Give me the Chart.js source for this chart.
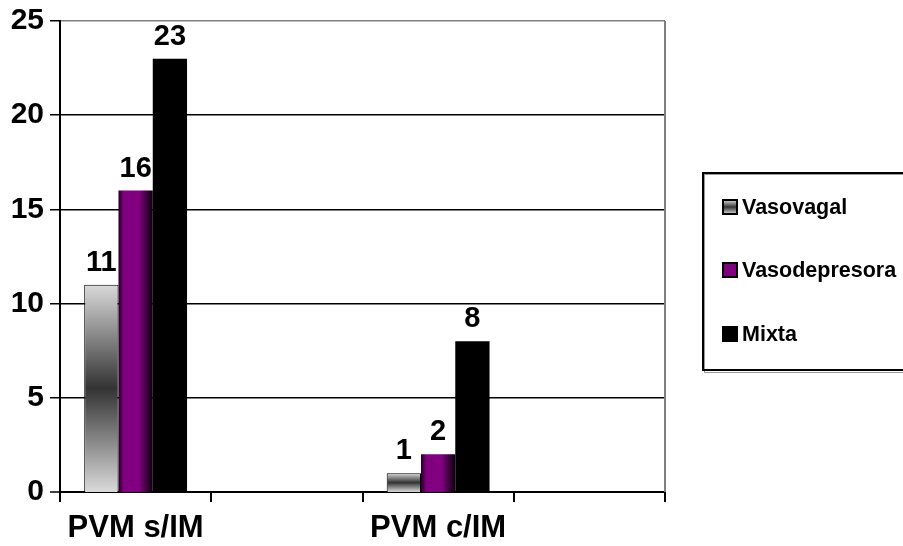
<!DOCTYPE html>
<html>
<head>
<meta charset="utf-8">
<script src="https://cdn.jsdelivr.net/npm/chart.js@4/dist/chart.umd.min.js"></script>
<style>
html,body{margin:0;padding:0;background:#fff;}
#wrap{width:903px;height:546px;position:relative;}
</style>
</head>
<body>
<div id="wrap"><canvas id="c" width="903" height="546"></canvas></div>
<script>
const categories = ["PVM s/IM", "", "PVM c/IM", ""];
const seriesNames = ["Vasovagal", "Vasodepresora", "Mixta"];
const vasovagal = [11, null, 1, null];
const vasodepresora = [16, null, 2, null];
const mixta = [23, null, 8, null];
const yTicks = [0, 5, 10, 15, 20, 25];

const FONT = "'Liberation Sans', Arial, sans-serif";
const CAT_PCT = 0.68;

function barLeft(chart, dataIndex, datasetIndex) {
  const xs = chart.scales.x;
  const slot = xs.width / categories.length;
  const bw = slot * CAT_PCT / 3;
  const center = xs.getPixelForValue(dataIndex);
  return {left: center - 1.5 * bw + datasetIndex * bw, w: bw};
}

function grayFill(context) {
  const chart = context.chart;
  if (!chart.chartArea || context.raw == null) return '#b0b0b0';
  const ys = chart.scales.y;
  const top = ys.getPixelForValue(context.raw);
  const bot = ys.getPixelForValue(0);
  const g = chart.ctx.createLinearGradient(0, top, 0, bot);
  g.addColorStop(0, '#dadada');
  g.addColorStop(0.5, '#333333');
  g.addColorStop(1, '#dadada');
  return g;
}
function purpleFill(context) {
  const chart = context.chart;
  if (!chart.chartArea || context.raw == null) return '#800080';
  const b = barLeft(chart, context.dataIndex, 1);
  const g = chart.ctx.createLinearGradient(b.left, 0, b.left + b.w, 0);
  g.addColorStop(0, '#200020');
  g.addColorStop(0.15, '#800080');
  g.addColorStop(0.6, '#800080');
  g.addColorStop(1, '#0a000a');
  return g;
}

const extras = {
  id: 'extras',
  afterDatasetsDraw(chart) {
    const c = chart.ctx;
    const a = chart.chartArea;
    c.save();
    c.strokeStyle = '#808080';
    c.lineWidth = 2;
    c.beginPath();
    c.moveTo(a.right, a.top);
    c.lineTo(a.right, a.bottom);
    c.stroke();
    c.fillStyle = '#000';
    c.font = 'bold 29px ' + FONT;
    c.textAlign = 'center';
    c.textBaseline = 'alphabetic';
    chart.data.datasets.forEach((ds, di) => {
      const meta = chart.getDatasetMeta(di);
      meta.data.forEach((el, i) => {
        const v = ds.data[i];
        if (v == null) return;
        c.fillText(String(v), el.x, el.y - 14);
      });
    });
    c.restore();
  },
  afterDraw(chart) {
    const c = chart.ctx;
    c.save();
    c.strokeStyle = '#999';
    c.lineWidth = 1;
    c.strokeRect(704.5, 174.5, 240, 198);
    c.strokeStyle = '#000';
    c.lineWidth = 2;
    c.strokeRect(703, 173, 240, 197);
    const items = [
      {name: seriesNames[0], y: 207},
      {name: seriesNames[1], y: 270},
      {name: seriesNames[2], y: 334}
    ];
    items.forEach((it, i) => {
      const x = 723, y = it.y - 7, s = 14;
      let fill;
      if (i === 0) {
        fill = c.createLinearGradient(0, y, 0, y + s);
        fill.addColorStop(0, '#dadada');
        fill.addColorStop(0.5, '#333');
        fill.addColorStop(1, '#dadada');
      } else if (i === 1) {
        fill = '#800080';
      } else {
        fill = '#000';
      }
      c.fillStyle = fill;
      c.fillRect(x, y, s, s);
      c.strokeStyle = '#000';
      c.lineWidth = 2;
      c.strokeRect(x, y, s, s);
      c.fillStyle = '#000';
      c.font = 'bold 21.5px ' + FONT;
      c.textAlign = 'left';
      c.textBaseline = 'middle';
      c.fillText(it.name, 742, it.y + 1);
    });
    c.restore();
  }
};

new Chart(document.getElementById('c'), {
  type: 'bar',
  data: {
    labels: categories,
    datasets: [
      {label: seriesNames[0], data: vasovagal, backgroundColor: grayFill, borderColor: '#000', borderWidth: 1},
      {label: seriesNames[1], data: vasodepresora, backgroundColor: purpleFill, borderColor: '#000', borderWidth: 0},
      {label: seriesNames[2], data: mixta, backgroundColor: '#000', borderColor: '#000', borderWidth: 0}
    ]
  },
  options: {
    responsive: false,
    animation: false,
    events: [],
    datasets: {bar: {categoryPercentage: CAT_PCT, barPercentage: 1.0}},
    layout: {padding: {top: 21, right: 238, left: 0, bottom: 0}},
    plugins: {legend: {display: false}, tooltip: {enabled: false}},
    scales: {
      x: {
        offset: true,
        grid: {display: true, drawOnChartArea: false, drawTicks: true, tickLength: 10, color: '#000', lineWidth: 2, offset: true},
        border: {display: true, color: '#000', width: 2},
        ticks: {color: '#000', font: {family: FONT, size: 31, weight: 'bold'}, padding: 8, maxRotation: 0, autoSkip: false},
        afterFit(s) { s.height = 54; }
      },
      y: {
        min: 0, max: 25,
        afterBuildTicks(s) { s.ticks = yTicks.map(v => ({value: v})); },
        grid: {
          color: ctx => (ctx.tick && ctx.tick.value === 25) ? '#808080' : '#000',
          lineWidth: ctx => (ctx.tick && ctx.tick.value === 0) ? 0 : 1.5,
          tickLength: 10,
          tickColor: '#000',
          tickWidth: 1.5
        },
        border: {display: true, color: '#000', width: 2},
        ticks: {color: '#000', font: {family: FONT, size: 30, weight: 'bold', lineHeight: 1}, padding: 6},
        afterFit(s) { s.width = 60; }
      }
    }
  },
  plugins: [extras]
});
</script>
</body>
</html>
